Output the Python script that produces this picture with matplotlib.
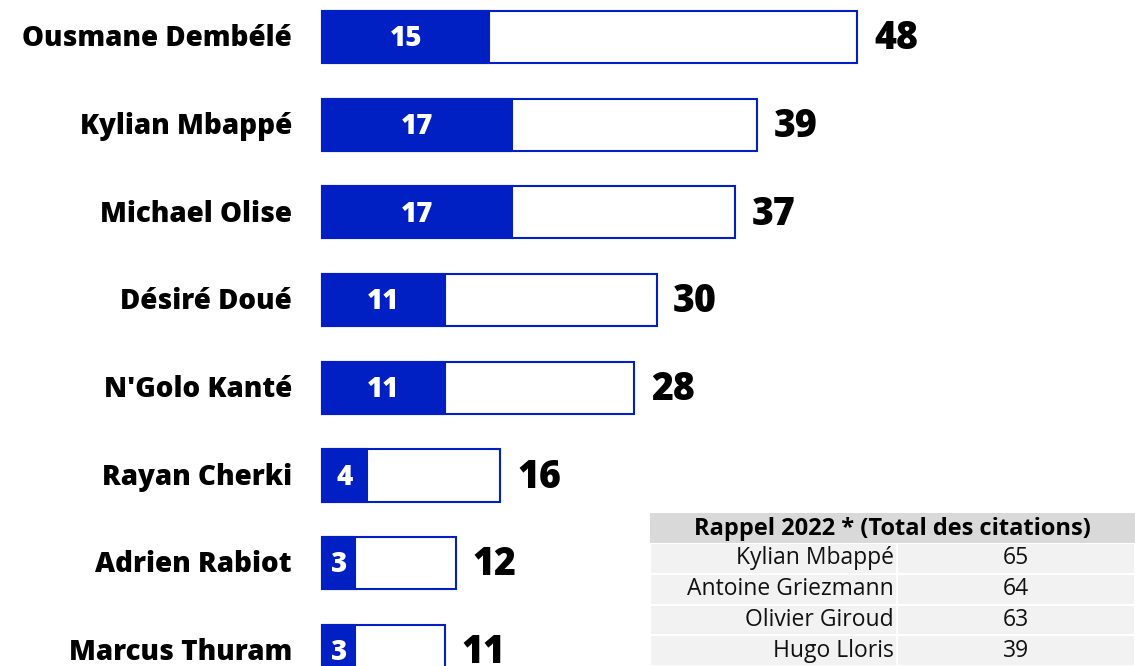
import matplotlib.pyplot as plt
from matplotlib.patches import Rectangle

players = ["Ousmane Dembélé", "Kylian Mbappé", "Michael Olise", "Désiré Doué",
           "N'Golo Kanté", "Rayan Cherki", "Adrien Rabiot", "Marcus Thuram"]
first_choice = [15, 17, 17, 11, 11, 4, 3, 3]
total = [48, 39, 37, 30, 28, 16, 12, 11]

recall_names = ["Kylian Mbappé", "Antoine Griezmann", "Olivier Giroud", "Hugo Lloris"]
recall_values = [65, 64, 63, 39]
recall_title = "Rappel 2022 * (Total des citations)"

blue = "#0020c4"
plt.rcParams['font.family'] = ['Open Sans', 'DejaVu Sans']

W, H = 1135, 666
fig = plt.figure(figsize=(W / 100, H / 100), dpi=100)
ax = fig.add_axes([0, 0, 1, 1])
ax.axis('off')

px_unit = 11.15
x0 = -322 / px_unit
ax.set_xlim(x0, x0 + W / px_unit)
pitch = 87.7
ax.set_ylim((H - 37) / pitch, -37 / pitch)

h = 0.595
for i, (name, f, t) in enumerate(zip(players, first_choice, total)):
    ax.barh(i, t, height=h, color='white', edgecolor=blue, linewidth=1.5)
    ax.barh(i, f, height=h, color=blue, edgecolor=blue, linewidth=1.5)
    ax.text(-2.7, i + 0.02, name, ha='right', va='center', fontsize=20, fontweight='heavy', color='black')
    ax.text(f / 2, i + 0.02, str(f), ha='center', va='center', fontsize=20, fontweight='heavy', color='white')
    ax.text(t + 1.5, i + 0.02, str(t), ha='left', va='center', fontsize=27, fontweight='heavy', color='black')

# recall table in pixel coordinates
def fx(p):
    return p / W

def fy(p):
    return 1 - p / H

tx0, tsplit, tx1 = 650, 897, 1135
fig.patches.append(Rectangle((fx(tx0), fy(543)), fx(tx1 - tx0), (543 - 513) / H,
                             transform=fig.transFigure, facecolor='#d9d9d9', edgecolor='none'))
fig.text(fx((tx0 + tx1) / 2), fy(529), recall_title, ha='center', va='center',
         fontsize=17, fontweight='bold', color='black')
row_h = 30.8
for j, (n, v) in enumerate(zip(recall_names, recall_values)):
    top = 543 + j * row_h
    for a, b in [(tx0, tsplit), (tsplit, tx1)]:
        fig.patches.append(Rectangle((fx(a + 1), fy(top + row_h - 1)), fx(b - a - 2), (row_h - 2) / H,
                                     transform=fig.transFigure, facecolor='#f2f2f2', edgecolor='none'))
    fig.text(fx(tsplit - 3), fy(top + row_h / 2), n, ha='right', va='center', fontsize=16.5, color='#111111')
    fig.text(fx((tsplit + tx1) / 2), fy(top + row_h / 2), str(v), ha='center', va='center',
             fontsize=16.5, color='#111111')

fig.savefig('out.png', dpi=100)
